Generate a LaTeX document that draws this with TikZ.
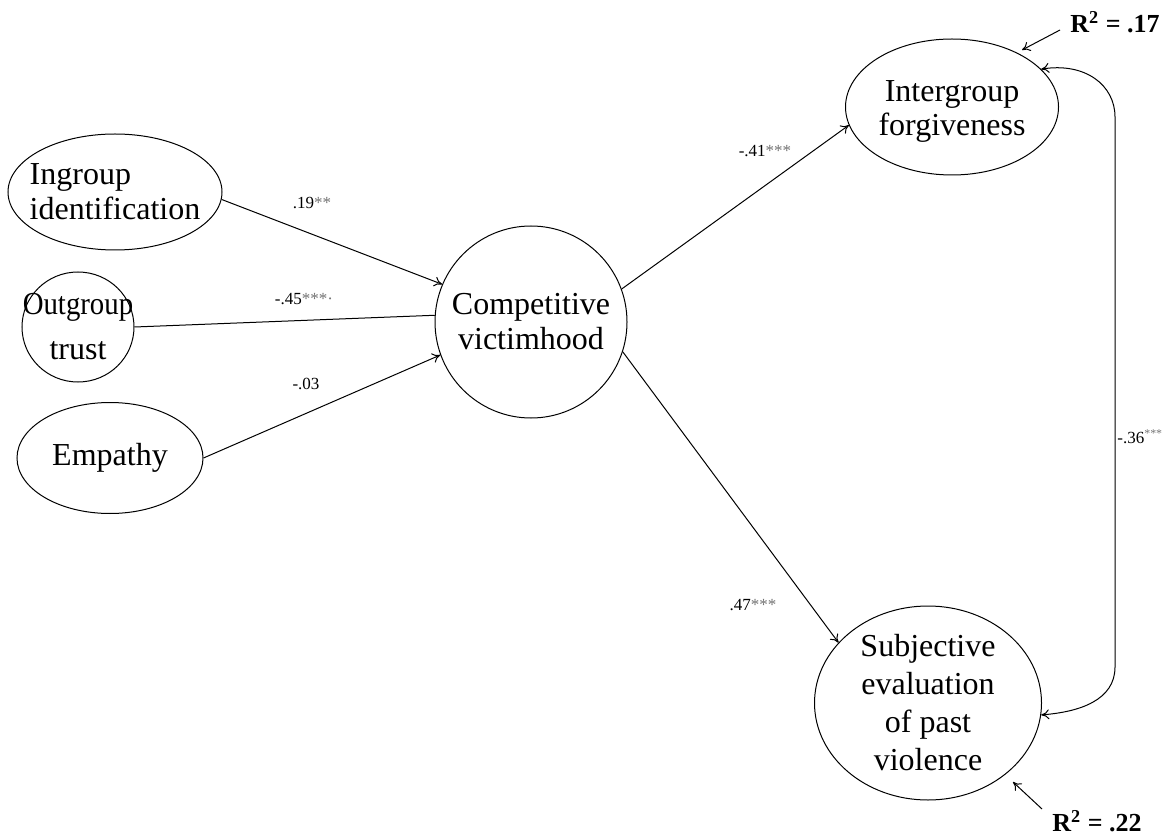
\documentclass[tikz,border=0pt]{standalone}
\usepackage{fontspec}
\setmainfont{Liberation Serif}
\usetikzlibrary{shapes.geometric,arrows.meta}
\definecolor{stargray}{gray}{0.45}
\newcommand\grst[1]{\textcolor{stargray}{#1}}
\begin{document}
\begin{tikzpicture}[x=0.5pt,y=-0.5pt,
  lat/.style={ellipse,draw,line width=0.5pt,inner sep=-30pt,align=center,font=\fontsize{16}{17.5}\selectfont},
  txt/.style={inner sep=0pt,align=center,font=\fontsize{16}{17.5}\selectfont},
  pth/.style={line width=0.5pt,-{To[length=4pt,width=5pt]}},
  cov/.style={line width=0.5pt,{To[length=4pt,width=5pt]}-{To[length=4pt,width=5pt]}},
  coef/.style={font=\fontsize{8.5}{10}\selectfont},
  rsq/.style={font=\bfseries\fontsize{13}{15}\selectfont}]
\useasboundingbox (0,0) rectangle (1176,839);

\node[lat,minimum width=107pt,minimum height=58pt,align=left] (ing) at (115,192) {Ingroup\\identification};
\node[lat,minimum width=56pt,minimum height=55pt,font=\fontsize{16}{22.5}\selectfont] (out) at (78,327) {\scalebox{0.9}[1]{Outgroup}\\trust};
\node[lat,minimum width=93pt,minimum height=55.5pt] (emp) at (110,458) {Empathy};
\node[lat,circle,minimum size=96pt] (comp) at (531,322) {Competitive\\victimhood};
\node[lat,minimum width=106.5pt,minimum height=68pt] (forg) at (952,107) {};
\node[txt,font=\fontsize{16}{17}\selectfont] (forgt) at (952,111) {Intergroup\\forgiveness};
\node[lat,minimum width=113.5pt,minimum height=97pt] (subj) at (928,703) {};
\node[txt,font=\fontsize{16}{19}\selectfont] (subjt) at (928,703) {Subjective\\evaluation\\of past\\violence};

\draw[pth] (ing.-4) -- (comp.157);
\draw[line width=0.5pt] (out.0) -- (comp.176);
\draw[pth] (emp.0) -- (comp.200);
\draw[pth] (comp.20) -- (forg.190);
\draw[pth] (comp.-18) -- (subj.146);

\node[coef] (l19) at (312,203) {.19\grst{**}};
\node[coef] (l45) at (304,299) {-.45\grst{***·}};
\node[coef] (l03) at (306,384) {-.03};
\node[coef] (l41) at (765,151) {-.41\grst{***}};
\node[coef] (l47) at (753,605) {.47\grst{***}};

\coordinate (cvt) at (1115,117);
\coordinate (cvb) at (1115,667);
\draw[cov] (forg.23) .. controls (1085,62) and (1115,85) .. (cvt) -- (cvb) .. controls (1115,700) and (1080,712) .. (subj.-6);
\node[coef,anchor=west,inner sep=0pt] (l36) at (1117,437) {-.36\textsuperscript{\grst{***}}};

\node[rsq] (r17) at (1115,22) {R\textsuperscript{2} = .17};
\node[rsq] (r22) at (1097,821) {R\textsuperscript{2} = .22};
\coordinate (a17s) at (1060,30);
\coordinate (a17e) at (1022,50);
\coordinate (a22s) at (1042,809);
\coordinate (a22e) at (1013,782);
\draw[pth] (a17s) -- (a17e);
\draw[pth] (a22s) -- (a22e);
\end{tikzpicture}
\end{document}
